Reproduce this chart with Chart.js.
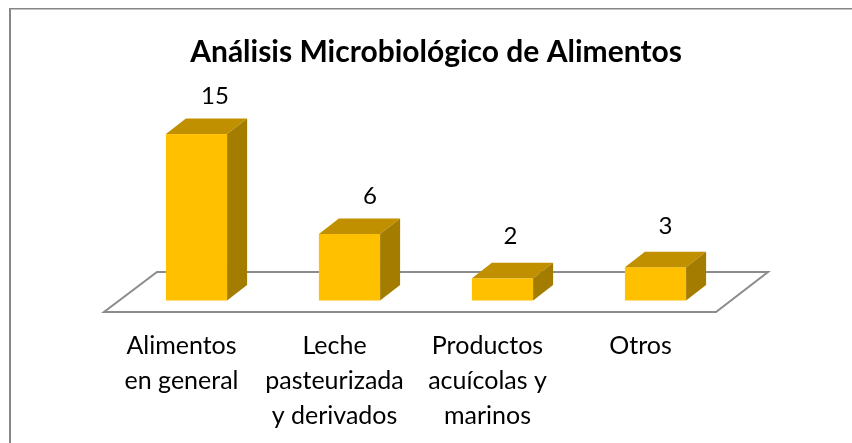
<!DOCTYPE html>
<html><head><meta charset="utf-8">
<style>html,body{margin:0;padding:0;background:#fff}#w{position:absolute;left:0;top:0;width:852px;height:443px}</style>
<script src="https://cdn.jsdelivr.net/npm/chart.js@4"></script>
</head><body><div id="w"><canvas id="c" width="852" height="443"></canvas></div>
<script>
const categories = [["Alimentos","en general"],["Leche","pasteurizada","y derivados"],["Productos","acuícolas y","marinos"],["Otros"]];
const values = [15,6,2,3];
const titleText = "Análisis Microbiológico de Alimentos";
const FONT = "Lato, Carlito, sans-serif";
const depthX = 20, depthY = 15.5;
const labelShiftX = [18.5,20.5,8,10];
const labelShiftY = [30,30,34,33];

const frame = {id:'frame',beforeDraw(ch){
  const g=ch.ctx; g.save(); g.strokeStyle='#868686';
  g.lineWidth=2; g.beginPath(); g.moveTo(10,443); g.lineTo(10,8); g.stroke();
  g.lineWidth=1.5; g.beginPath(); g.moveTo(9,8.75); g.lineTo(852,8.75); g.stroke();
  g.restore();
}};
const floor3d = {id:'floor3d',beforeDatasetsDraw(ch){
  const g=ch.ctx, a=ch.chartArea, by=a.bottom;
  g.save(); g.strokeStyle='#8c8c8c'; g.lineWidth=2; g.lineJoin='miter';
  g.beginPath();
  g.moveTo(a.left-16,by+11.5); g.lineTo(a.right-16,by+11.5);
  g.lineTo(a.right+36,by-28.5); g.lineTo(a.left+37,by-28.5); g.closePath(); g.stroke();
  g.restore();
}};
const box3d = {id:'box3d',afterDatasetsDraw(ch){
  const g=ch.ctx, m=ch.getDatasetMeta(0);
  g.save();
  m.data.forEach((b,i)=>{
    const l=b.x-b.width/2,r=b.x+b.width/2,t=b.y,bt=b.base;
    g.fillStyle='#ffc000'; g.fillRect(l,t,r-l,bt-t);
    g.fillStyle='#c09000'; g.beginPath(); g.moveTo(l,t); g.lineTo(l+depthX,t-depthY); g.lineTo(r+depthX,t-depthY); g.lineTo(r,t); g.closePath(); g.fill();
    g.fillStyle='#a37c00'; g.beginPath(); g.moveTo(r,t); g.lineTo(r+depthX,t-depthY); g.lineTo(r+depthX,bt-depthY); g.lineTo(r,bt); g.closePath(); g.fill();
    g.fillStyle='#000'; g.font='24px '+FONT; g.textAlign='center'; g.textBaseline='alphabetic';
    g.fillText(String(values[i]), b.x+labelShiftX[i], t-labelShiftY[i]);
  });
  g.restore();
}};

new Chart(document.getElementById('c'),{
  type:'bar',
  data:{labels:categories,datasets:[{data:values,backgroundColor:'rgba(0,0,0,0)',borderWidth:0,categoryPercentage:1,barPercentage:0.4}]},
  plugins:[frame,floor3d,box3d],
  options:{
    responsive:false,animation:false,
    layout:{padding:{left:120,right:100,top:0,bottom:0}},
    plugins:{legend:{display:false},tooltip:{enabled:false},
      title:{display:true,text:titleText,color:'#000',font:{family:FONT,size:30,weight:'bold'},padding:{top:34,bottom:8.6}}},
    scales:{
      x:{grid:{display:false},border:{display:false},ticks:{color:'#000',font:{family:FONT,size:25,lineHeight:1.4},padding:19.5,labelOffset:-15,maxRotation:0,autoSkip:false},afterFit(s){s.height=142.5;}},
      y:{position:'right',min:0,max:20,ticks:{display:false},grid:{display:false},border:{display:false},afterFit(s){s.width=20;}}
    }
  }
});
</script></body></html>
